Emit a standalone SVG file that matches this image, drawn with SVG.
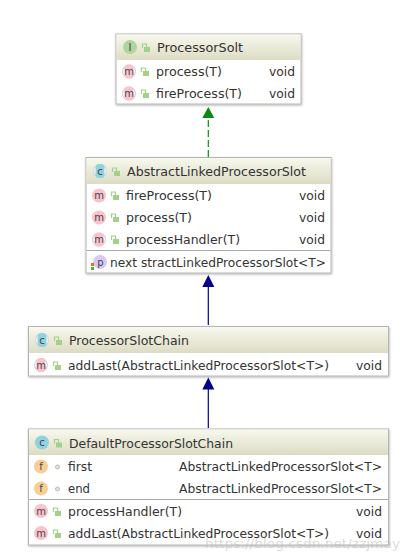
<svg xmlns="http://www.w3.org/2000/svg" width="408" height="560" viewBox="0 0 408 560">
<defs>
<linearGradient id="hdr" x1="0" y1="0" x2="0" y2="1"><stop offset="0" stop-color="#f8f8ee"/><stop offset="1" stop-color="#dcdcc4"/></linearGradient>
<g id="lock"><path d="M0.500 -3V-7H4.500V-4" fill="none" stroke="#a3d189" stroke-width="1.200"/><rect x="2" y="-4" width="6" height="5" fill="#a3d189"/></g>
<g id="dot"><circle cx="3.500" cy="-3" r="2" fill="#dfe3ea" stroke="#b4bcc8" stroke-width="1"/></g>
<g id="am"><circle r="7" fill="#d4d6dc"/><circle r="5.800" fill="#fff"/><rect x="-4.500" y="-7" width="9" height="14" rx="3.500" fill="#f9c3cd"/></g>
<g id="ac"><circle r="7" fill="#d4d6dc"/><circle r="5.800" fill="#fff"/><rect x="-4.500" y="-7" width="9" height="14" rx="3.500" fill="#8fd2e0"/></g>
<filter id="sh" x="-5%" y="-5%" width="110%" height="115%"><feDropShadow dx="0.500" dy="1" stdDeviation="0.800" flood-color="#000" flood-opacity="0.300"/></filter>
</defs>
<style>
text{font-family:"DejaVu Sans","Liberation Sans",sans-serif;font-size:12px;fill:#333}
.box{fill:#fff;stroke:#b4b4b4;stroke-width:1;filter:url(#sh)}
.hdr{fill:url(#hdr)}
.sep{stroke:#a8a8a8;stroke-width:1}
.ic{font-size:10px;text-anchor:middle;fill:#444}
.m{fill:#f9c3cd}.c{fill:#8fd2e0}.f{fill:#f8ce95}.p{fill:#d8c8f2}.i{fill:#aed59b}
.wm{font-size:13px;fill:#bdbdbd;fill-opacity:.55}
</style>
<rect width="408" height="560" fill="#fff"/>
<g id="connectors">
<path d="M208.300 157V118" fill="none" stroke="#0a8a12" stroke-width="1.200" stroke-dasharray="7 3"/>
<path d="M208.300 107l-6 11h12z" fill="#0a8a12"/>
<path d="M208.300 325V286" fill="none" stroke="#00008b" stroke-width="1.200"/>
<path d="M208.300 275l-6 12h12z" fill="#00008b"/>
<path d="M208.300 428V388" fill="none" stroke="#00008b" stroke-width="1.200"/>
<path d="M208.300 377.500l-6 12h12z" fill="#00008b"/>
</g>
<g id="ProcessorSolt">
<rect class="box" x="116" y="34" width="185" height="70"/>
<rect class="hdr" x="116.500" y="34.500" width="184" height="25.500"/>
<circle class="i" cx="130" cy="47" r="7"/><text class="ic" x="130" y="50.500">I</text>
<use href="#lock" x="142" y="51"/>
<text x="157" y="52" textLength="86" lengthAdjust="spacingAndGlyphs">ProcessorSolt</text>
<use href="#am" x="129" y="71.500"/><text class="ic" x="129" y="75">m</text>
<use href="#lock" x="141" y="75"/>
<text x="156" y="76" textLength="66" lengthAdjust="spacingAndGlyphs">process(T)</text>
<text x="269" y="76" textLength="26" lengthAdjust="spacingAndGlyphs">void</text>
<use href="#am" x="129" y="93.500"/><text class="ic" x="129" y="97">m</text>
<use href="#lock" x="141" y="97"/>
<text x="156" y="98" textLength="86" lengthAdjust="spacingAndGlyphs">fireProcess(T)</text>
<text x="269" y="98" textLength="26" lengthAdjust="spacingAndGlyphs">void</text>
</g>
<g id="AbstractLinkedProcessorSlot">
<rect class="box" x="86" y="157.500" width="245" height="115.500"/>
<rect class="hdr" x="86.500" y="158" width="244" height="26"/>
<use href="#ac" x="100" y="171"/><text class="ic" x="100" y="174.500">c</text>
<use href="#lock" x="112" y="175"/>
<text x="127" y="176" textLength="179" lengthAdjust="spacingAndGlyphs">AbstractLinkedProcessorSlot</text>
<circle class="m" cx="99" cy="195.500" r="7"/><text class="ic" x="99" y="199">m</text>
<use href="#lock" x="111" y="199"/>
<text x="126" y="200" textLength="86" lengthAdjust="spacingAndGlyphs">fireProcess(T)</text>
<text x="299" y="200" textLength="26" lengthAdjust="spacingAndGlyphs">void</text>
<circle class="m" cx="99" cy="217.500" r="7"/><text class="ic" x="99" y="221">m</text>
<use href="#lock" x="111" y="221"/>
<text x="126" y="222" textLength="66" lengthAdjust="spacingAndGlyphs">process(T)</text>
<text x="299" y="222" textLength="26" lengthAdjust="spacingAndGlyphs">void</text>
<use href="#am" x="99" y="239.500"/><text class="ic" x="99" y="243">m</text>
<use href="#lock" x="111" y="243"/>
<text x="126" y="244" textLength="114" lengthAdjust="spacingAndGlyphs">processHandler(T)</text>
<text x="299" y="244" textLength="26" lengthAdjust="spacingAndGlyphs">void</text>
<line class="sep" x1="86.500" y1="250.500" x2="330.500" y2="250.500"/>
<circle class="p" cx="100" cy="262" r="7"/><text class="ic" x="100.500" y="265.500">p</text>
<rect x="91" y="263" width="3" height="3" fill="#e07020"/><rect x="91" y="267" width="3" height="3" fill="#4caf30"/>
<text x="110" y="267" textLength="216" lengthAdjust="spacingAndGlyphs">next stractLinkedProcessorSlot&lt;T&gt;</text>
</g>
<g id="ProcessorSlotChain">
<rect class="box" x="28.500" y="326.500" width="360" height="49.500"/>
<rect class="hdr" x="29" y="327" width="359" height="26"/>
<use href="#ac" x="42" y="340"/><text class="ic" x="42" y="343.500">c</text>
<use href="#lock" x="54" y="344"/>
<text x="69" y="345" textLength="120" lengthAdjust="spacingAndGlyphs">ProcessorSlotChain</text>
<use href="#am" x="41" y="365"/><text class="ic" x="41" y="368.500">m</text>
<use href="#lock" x="53" y="369"/>
<text x="68" y="369.500" textLength="261" lengthAdjust="spacingAndGlyphs">addLast(AbstractLinkedProcessorSlot&lt;T&gt;)</text>
<text x="356" y="369.500" textLength="26" lengthAdjust="spacingAndGlyphs">void</text>
</g>
<g id="DefaultProcessorSlotChain">
<rect class="box" x="28.500" y="429" width="360" height="116"/>
<rect class="hdr" x="29" y="429.500" width="359" height="25.500"/>
<circle class="c" cx="42" cy="442.500" r="7"/><text class="ic" x="42" y="446">c</text>
<use href="#lock" x="54" y="446.500"/>
<text x="69" y="447.500" textLength="164" lengthAdjust="spacingAndGlyphs">DefaultProcessorSlotChain</text>
<circle class="f" cx="41" cy="466.500" r="7"/><text class="ic" x="41" y="470">f</text>
<use href="#dot" x="54" y="470"/>
<text x="68" y="471" textLength="24" lengthAdjust="spacingAndGlyphs">first</text>
<text x="179" y="471" textLength="203" lengthAdjust="spacingAndGlyphs">AbstractLinkedProcessorSlot&lt;T&gt;</text>
<circle class="f" cx="41" cy="488.500" r="7"/><text class="ic" x="41" y="492">f</text>
<use href="#dot" x="54" y="492"/>
<text x="68" y="493" textLength="22" lengthAdjust="spacingAndGlyphs">end</text>
<text x="179" y="493" textLength="203" lengthAdjust="spacingAndGlyphs">AbstractLinkedProcessorSlot&lt;T&gt;</text>
<line class="sep" x1="29" y1="499.500" x2="388" y2="499.500"/>
<circle class="m" cx="41" cy="511" r="7"/><text class="ic" x="41" y="514.500">m</text>
<use href="#lock" x="53" y="515"/>
<text x="68" y="516" textLength="114" lengthAdjust="spacingAndGlyphs">processHandler(T)</text>
<text x="356" y="516" textLength="26" lengthAdjust="spacingAndGlyphs">void</text>
<circle class="m" cx="41" cy="533" r="7"/><text class="ic" x="41" y="536.500">m</text>
<use href="#lock" x="53" y="537"/>
<text x="68" y="538" textLength="261" lengthAdjust="spacingAndGlyphs">addLast(AbstractLinkedProcessorSlot&lt;T&gt;)</text>
<text x="356" y="538" textLength="26" lengthAdjust="spacingAndGlyphs">void</text>
</g>
<text class="wm" x="205" y="548" textLength="195" lengthAdjust="spacingAndGlyphs">https://blog.csdn.net/zzjmay</text>
</svg>
